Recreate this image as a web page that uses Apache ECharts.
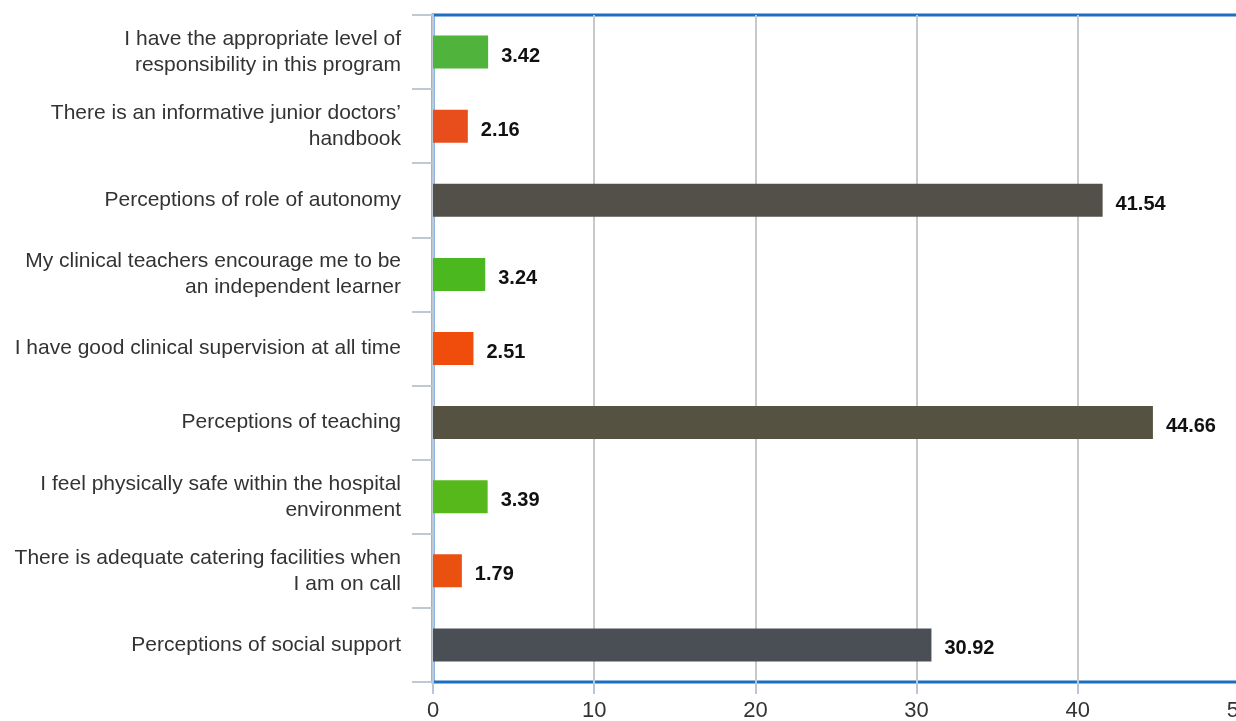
<!DOCTYPE html>
<html>
<head>
<meta charset="utf-8">
<script src="https://cdn.jsdelivr.net/npm/echarts@6/dist/echarts.min.js"></script>
<style>html,body{margin:0;padding:0;background:#fff}#c{width:1236px;height:721px}</style>
</head>
<body>
<div id="c"></div>
<script>
const categories = [
  "I have the appropriate level of\nresponsibility in this program",
  "There is an informative junior doctors’\nhandbook",
  "Perceptions of role of autonomy",
  "My clinical teachers encourage me to be\nan independent learner",
  "I have good clinical supervision at all time",
  "Perceptions of teaching",
  "I feel physically safe within the hospital\nenvironment",
  "There is adequate catering facilities when\nI am on call",
  "Perceptions of social support"
];
const values = [3.42, 2.16, 41.54, 3.24, 2.51, 44.66, 3.39, 1.79, 30.92];
const barColors = ["#50b43c", "#e84e1b", "#525048", "#4ab81e", "#f04c0c", "#565242", "#56b81a", "#ea5010", "#4a4e55"];
const xTicks = { min: 0, max: 50, interval: 10 };

const chart = echarts.init(document.getElementById('c'));
chart.setOption({
  animation: false,
  grid: { left: 433, top: 15, right: -3, bottom: 39, show: true, borderColor: '#1a6fc4', borderWidth: 3, backgroundColor: 'transparent', outerBoundsMode: 'none', containLabel: false },
  xAxis: {
    type: 'value', min: xTicks.min, max: xTicks.max, interval: xTicks.interval,
    axisLine: { show: false },
    axisTick: { show: true, length: 12, lineStyle: { color: '#b8c6d8', width: 2 } },
    axisLabel: { fontFamily: 'Liberation Sans, Arial', fontSize: 22, color: '#333', margin: 18 },
    splitLine: { show: true, lineStyle: { color: '#c8c8c8', width: 2 } }
  },
  yAxis: {
    type: 'category', data: categories, inverse: true,
    axisLine: { show: true, lineStyle: { color: '#c0c8d4', width: 2 } },
    axisTick: { show: true, length: 21, lineStyle: { color: '#c0c8d4', width: 2 } },
    axisLabel: { fontFamily: 'Liberation Sans, Arial', fontSize: 21, color: '#333', margin: 32, lineHeight: 26, align: 'right', padding: [3, 0, 0, 0] }
  },
  series: [{
    type: 'bar',
    barWidth: 33,
    data: values.map((v, i) => ({ value: v, itemStyle: { color: barColors[i] } })),
    label: {
      show: true, position: 'right', distance: 13, offset: [0, 4],
      fontFamily: 'Liberation Sans, Arial', fontSize: 20, fontWeight: 'bold', color: '#111',
      formatter: p => p.value.toFixed(2)
    }
  }]
});
</script>
</body>
</html>
